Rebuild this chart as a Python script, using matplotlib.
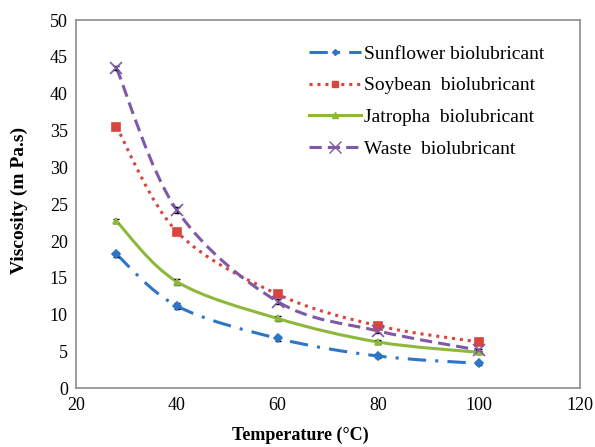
import numpy as np
import matplotlib
matplotlib.use("Agg")
import matplotlib.pyplot as plt
from matplotlib.path import Path
from matplotlib.patches import PathPatch

plt.rcParams['font.family'] = ['Liberation Serif', 'DejaVu Serif']

temps = [28, 40, 60, 80, 100]
sunflower = [18.2, 11.2, 6.8, 4.4, 3.4]
soybean = [35.5, 21.3, 12.8, 8.5, 6.3]
jatropha = [22.7, 14.5, 9.5, 6.3, 4.9]
waste = [43.5, 24.2, 11.8, 7.8, 5.2]
err = [0.3, 0.4, 0.3, 0.3, 0.2]

series = [
    ("Sunflower biolubricant", sunflower, "#2e75c8", (0, (6, 3, 1, 3)), "D", 4, 3),
    ("Soybean  biolubricant", soybean, "#d9453c", (0, (1, 1.6)), "s", 6, 5),
    ("Jatropha  biolubricant", jatropha, "#8db83c", "-", "^", 5, 4),
    ("Waste  biolubricant", waste, "#7f58a8", (0, (4, 2)), "x", 9, 8),
]

fig = plt.figure(figsize=(5.95, 4.47), dpi=100)
ax = fig.add_axes([0.128, 0.131, 0.846, 0.824])


def smooth_path(x, y, t=0.5):
    x = np.asarray(x, float); y = np.asarray(y, float)
    verts = [(x[0], y[0])]
    codes = [Path.MOVETO]
    n = len(x)
    for i in range(n - 1):
        p0 = np.array([x[max(i - 1, 0)], y[max(i - 1, 0)]])
        p1 = np.array([x[i], y[i]])
        p2 = np.array([x[i + 1], y[i + 1]])
        p3 = np.array([x[min(i + 2, n - 1)], y[min(i + 2, n - 1)]])
        c1 = p1 + (p2 - p0) * t / 3
        c2 = p2 - (p3 - p1) * t / 3
        verts += [tuple(c1), tuple(c2), tuple(p2)]
        codes += [Path.CURVE4] * 3
    return Path(verts, codes)


handles = []
for label, vals, color, ls, mk, ms, lms in series:
    patch = PathPatch(smooth_path(temps, vals), facecolor='none', edgecolor=color,
                      linestyle=ls, linewidth=2.2, zorder=2)
    ax.add_patch(patch)
    ax.errorbar(temps, vals, yerr=err, fmt='none', ecolor='black', elinewidth=0.8,
                capsize=2, zorder=3)
    ax.plot(temps, vals, linestyle='none', marker=mk, color=color, markersize=ms,
            markeredgewidth=1.2, zorder=4)
    h, = ax.plot([], [], color=color, linestyle=ls, linewidth=2.2, marker=mk,
                 markersize=lms, markeredgewidth=1.0)
    handles.append(h)

ax.set_xlim(20, 120)
ax.set_ylim(0, 50)
ax.set_xticks([20, 40, 60, 80, 100, 120])
ax.set_yticks(range(0, 51, 5))
ax.tick_params(length=0, labelsize=13, pad=6)
for s in ax.spines.values():
    s.set_color('#8c8c8c')
    s.set_linewidth(1.2)

ax.set_xlabel("Temperature (°C)", fontsize=13, fontweight='bold')
ax.set_ylabel("Viscosity (m Pa.s)", fontsize=14, fontweight='bold')
ax.xaxis.set_label_coords(0.446, -0.105)
ax.yaxis.set_label_coords(-0.095, 0.51)

ax.legend(handles, [s[0] for s in series], loc='upper left', frameon=False,
          fontsize=14, handlelength=2.7, bbox_to_anchor=(0.519, 0.899),
          bbox_transform=fig.transFigure, borderpad=0, borderaxespad=0,
          labelspacing=0.72, handletextpad=0.15)

fig.savefig("out.png", dpi=100)
